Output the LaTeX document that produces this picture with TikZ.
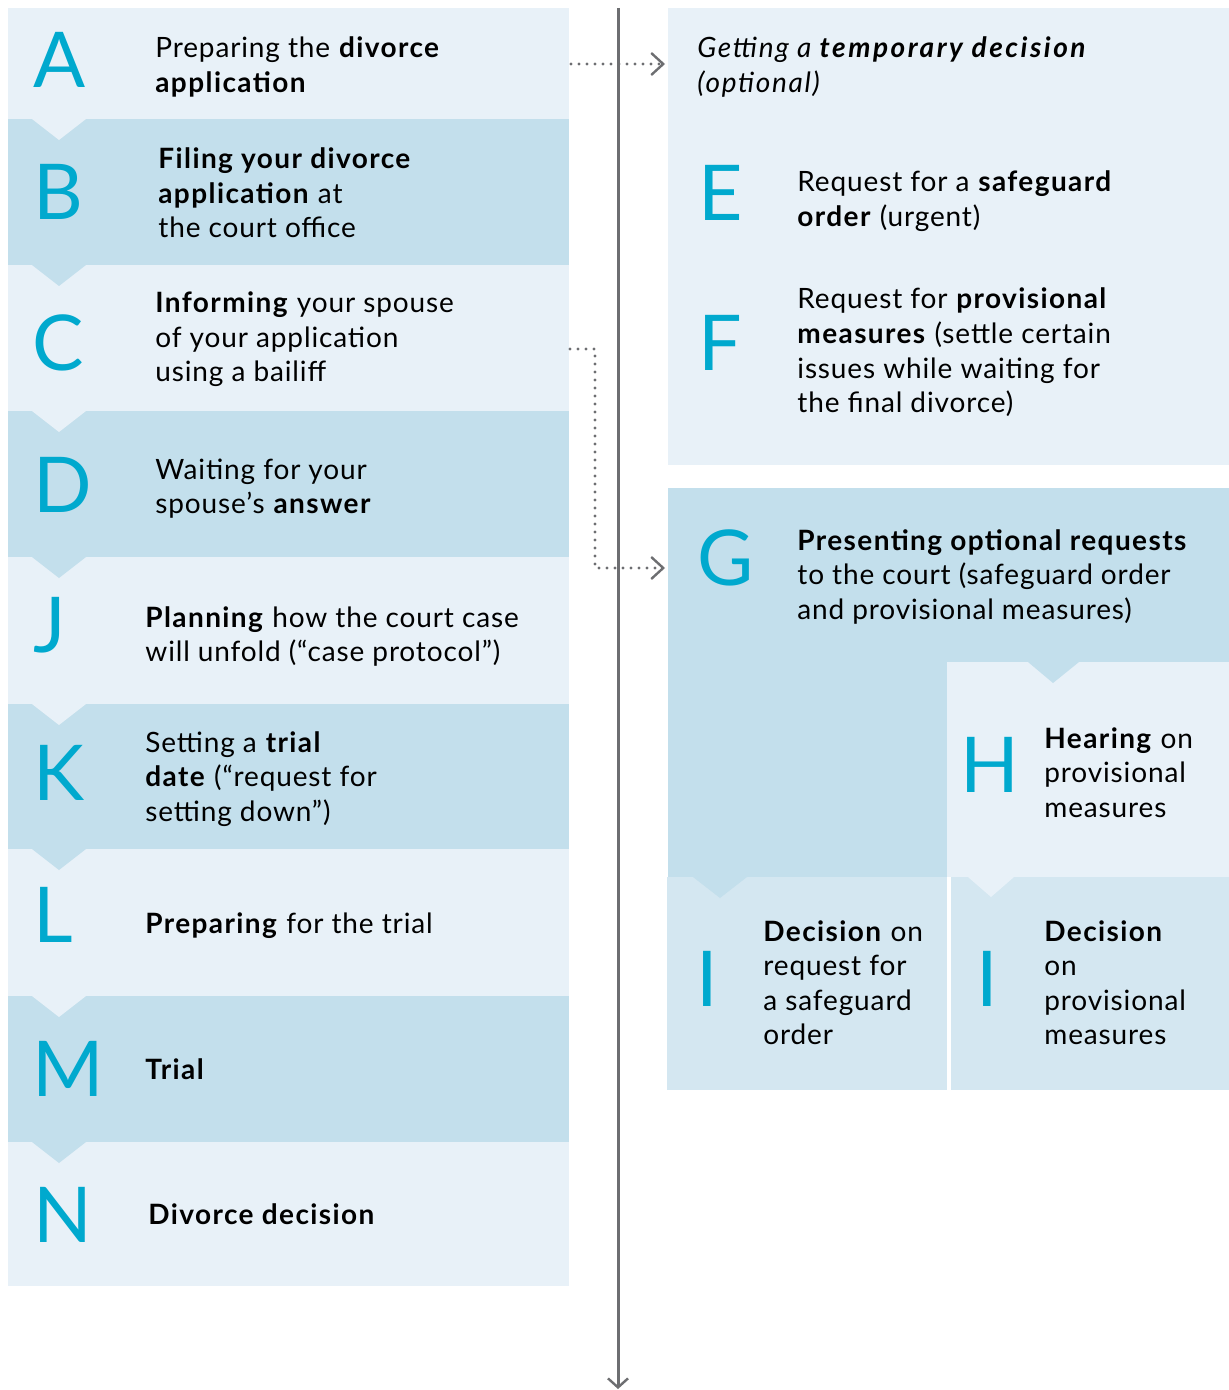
\documentclass[tikz,border=0pt]{standalone}
\usepackage{fontspec}
\setmainfont{Lato}[
  UprightFeatures={LetterSpace=3.1},
  BoldFeatures={LetterSpace=5},
  ItalicFeatures={LetterSpace=6},
  BoldItalicFeatures={LetterSpace=9}]
\newfontfamily\plainlato{Lato}
\usetikzlibrary{arrows.meta,fit}
\definecolor{lightbox}{HTML}{E8F1F8}
\definecolor{darkbox}{HTML}{C3DFEC}
\definecolor{midbox}{HTML}{D4E7F1}
\definecolor{lettercol}{HTML}{00A9CE}
\definecolor{linegrey}{HTML}{6D6E71}
\newcommand{\tb}[1]{\parbox[t]{300pt}{\raggedright\fontsize{14}{17.25}\selectfont #1}}
\begin{document}
\begin{tikzpicture}[x=0.5pt,y=-0.5pt,
  boxstyle/.style={inner sep=0pt, outer sep=0pt, draw=none},
  bigletter/.style={anchor=base west, inner sep=0pt, text=lettercol, font=\plainlato\fontsize{38.5}{40}\selectfont},
  txt/.style={anchor=base west, inner sep=0pt, text=black},
  dotconn/.style={draw=linegrey, line width=1.6pt, dash pattern=on 0pt off 4pt, line cap=round},
  chev/.style={-{Straight Barb[length=6pt,width=11pt,line width=1.2pt]}},
  notch/.style={draw=none}
]
\useasboundingbox (0,0) rectangle (1229,1390);

% left column boxes
\node[boxstyle, fill=lightbox, fit={(8,8)(569,119)}] (boxA) {};
\node[boxstyle, fill=darkbox, fit={(8,119)(569,265)}] (boxB) {};
\node[boxstyle, fill=lightbox, fit={(8,265)(569,411)}] (boxC) {};
\node[boxstyle, fill=darkbox, fit={(8,411)(569,557)}] (boxD) {};
\node[boxstyle, fill=lightbox, fit={(8,557)(569,704)}] (boxJ) {};
\node[boxstyle, fill=darkbox, fit={(8,704)(569,849)}] (boxK) {};
\node[boxstyle, fill=lightbox, fit={(8,849)(569,996)}] (boxL) {};
\node[boxstyle, fill=darkbox, fit={(8,996)(569,1142)}] (boxM) {};
\node[boxstyle, fill=lightbox, fit={(8,1142)(569,1286)}] (boxN) {};

% notches left
\fill[lightbox] (32,119) -- (86,119) -- (59,140) -- cycle;
\fill[darkbox] (32,265) -- (86,265) -- (59,286) -- cycle;
\fill[lightbox] (32,411) -- (86,411) -- (59,432) -- cycle;
\fill[darkbox] (32,557) -- (86,557) -- (59,578) -- cycle;
\fill[lightbox] (32,704) -- (86,704) -- (59,725) -- cycle;
\fill[darkbox] (32,849) -- (86,849) -- (59,870) -- cycle;
\fill[lightbox] (32,996) -- (86,996) -- (59,1017) -- cycle;
\fill[darkbox] (32,1142) -- (86,1142) -- (59,1163) -- cycle;

% right column boxes
\node[boxstyle, fill=lightbox, fit={(668,8)(1229,465)}] (boxTop) {};
\fill[darkbox] (668,488) rectangle (1229,662);
\fill[darkbox] (668,662) rectangle (947,877);
\node[boxstyle, fit={(668,488)(1229,662)}] (boxG) {};
\node[boxstyle, fill=lightbox, fit={(947,662)(1229,877)}] (boxH) {};
\node[boxstyle, fill=midbox, fit={(667,877)(947,1090)}] (boxI1) {};
\node[boxstyle, fill=midbox, fit={(951,877)(1229,1090)}] (boxI2) {};
\fill[darkbox] (1028,662) -- (1079,662) -- (1053,683) -- cycle;
\fill[darkbox] (693,877) -- (747,877) -- (720,898) -- cycle;
\fill[lightbox] (968,877) -- (1014,877) -- (991,897) -- cycle;

% big letters
\node[bigletter] (lA) at (33,88) {A};
\node[bigletter] (lB) at (33,220) {B};
\node[bigletter] (lC) at (32,370) {C};
\node[bigletter] (lD) at (33,512) {D};
\node[bigletter] (lJ) at (33,652) {J};
\node[bigletter] (lK) at (33,800) {K};
\node[bigletter] (lL) at (33,942) {L};
\node[bigletter] (lM) at (32,1096) {M};
\node[bigletter] (lN) at (33,1242) {N};
\node[bigletter] (lE) at (698,221) {E};
\node[bigletter] (lF) at (698,371) {F};
\node[bigletter] (lG) at (697,585) {G};
\node[bigletter] (lH) at (960,792) {H};
\node[bigletter] (lI1) at (696,1006) {I};
\node[bigletter] (lI2) at (976,1006) {I};

% left texts
\node[txt] (tA) at (155,58) {\tb{Preparing the \textbf{divorce}\\ \textbf{application}}};
\node[txt] (tB) at (158,169) {\tb{\textbf{Filing your divorce}\\ \textbf{application} at\\ the court office}};
\node[txt] (tC) at (155,313) {\tb{\textbf{Informing} your spouse\\ of your application\\ using a bailiff}};
\node[txt] (tD) at (155,479) {\tb{Waiting for your\\ spouse’s \textbf{answer}}};
\node[txt] (tJ) at (145,627) {\tb{\textbf{Planning} how the court case\\ will unfold (“case protocol”)}};
\node[txt] (tK) at (145,752) {\tb{Setting a \textbf{trial}\\ \textbf{date} (“request for\\ setting down”)}};
\node[txt] (tL) at (145,933) {\tb{\textbf{Preparing} for the trial}};
\node[txt] (tM) at (145,1079) {\tb{\textbf{Trial}}};
\node[txt] (tN) at (148,1224) {\tb{\textbf{Divorce decision}}};

% right texts
\node[txt] (tTitle) at (697,58) {\tb{\itshape Getting a \textbf{temporary decision}\\ (optional)}};
\node[txt] (tE) at (797,192) {\tb{Request for a \textbf{safeguard}\\ \textbf{order} (urgent)}};
\node[txt] (tF) at (797,309) {\tb{Request for \textbf{provisional}\\ \textbf{measures} (settle certain\\ issues while waiting for\\ the final divorce)}};
\node[txt] (tG) at (797,550) {\tb{\textbf{Presenting optional requests}\\ to the court (safeguard order\\ and provisional measures)}};
\node[txt] (tH) at (1044,748) {\tb{\textbf{Hearing} on\\ provisional\\ measures}};
\node[txt] (tI1) at (763,941) {\tb{\textbf{Decision} on\\ request for\\ a safeguard\\ order}};
\node[txt] (tI2) at (1044,941) {\tb{\textbf{Decision}\\ on\\ provisional\\ measures}};

% timeline
\coordinate (vtop) at (618,8);
\coordinate (vbot) at (618,1389);
\draw[linegrey, line width=1.5pt, -{Straight Barb[length=4.5pt,width=10pt,line width=1.2pt]}] (vtop) -- (vbot);

% dotted connectors
\coordinate (a1) at (571,64);
\coordinate (a2) at (665,64);
\draw[dotconn, chev] (a1) -- (a2);
\coordinate (c1) at (570,349);
\coordinate (c2) at (595,349);
\coordinate (c3) at (595,568);
\coordinate (g1) at (665,568);
\draw[dotconn, chev] (c1) -- (c2) -- (c3) -- (g1);
\end{tikzpicture}
\end{document}
